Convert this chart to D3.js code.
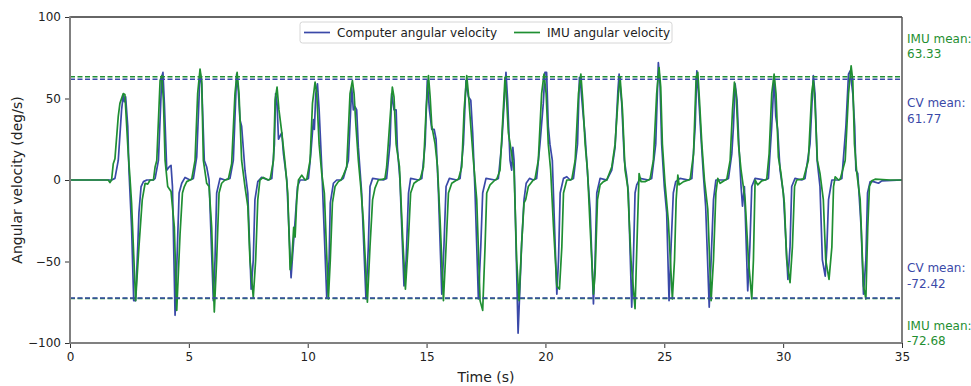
<!DOCTYPE html>
<html>
<head>
<meta charset="utf-8">
<script src="https://cdn.jsdelivr.net/npm/d3@7"></script>
<style>
  html, body { margin: 0; padding: 0; background: #fff; }
  svg { display: block; font-family: "DejaVu Sans", sans-serif; }
</style>
</head>
<body>
<svg id="chart" width="971" height="386"></svg>
<script>
// ---------------- data ----------------
const xTicks = [0, 5, 10, 15, 20, 25, 30, 35];
const yTicks = [100, 50, 0, -50, -100];
const seriesNames = ["Computer angular velocity", "IMU angular velocity"];
const meanLabels = ["IMU mean:", "CV mean:", "CV mean:", "IMU mean:"];
const meanValues = [63.33, 61.77, -72.42, -72.68];
const meanSeries = ["imu", "cv", "cv", "imu"];

// Computer (CV) angular velocity: [time s, deg/s]
const cvPoints = [
 [0,0],[1.75,0],[1.89,1],[2.03,12],[2.17,43],[2.24,52],[2.29,48],[2.34,51],[2.43,33],[2.48,6],[2.59,-29],[2.68,-74],[2.76,-74],[2.85,-41],[2.90,-20],[2.99,-4],[3.09,-1],[3.23,0],[3.51,0],
 [3.58,1],[3.72,12],[3.86,63],[3.91,66],[3.97,47],[4.07,6],[4.17,8],[4.25,9],[4.31,-4],[4.42,-83],[4.50,-49],[4.59,-8],[4.70,-2],[4.84,1.6],[5.05,0],
 [5.19,1],[5.33,14],[5.47,66],[5.54,59],[5.65,12],[5.75,8],[5.85,0],[6.03,-74],[6.10,-49],[6.17,-8],[6.31,1],[6.52,0],
 [6.73,1],[6.87,12],[7.01,65],[7.08,55],[7.15,37],[7.22,33],[7.36,6],[7.48,-8],[7.62,-67],[7.71,-49],[7.78,-12],[7.90,-1],[8.06,1.6],[8.34,0],
 [8.49,1],[8.60,22],[8.65,53],[8.71,47],[8.77,25],[8.91,29],[8.98,16],[9.12,0],[9.30,-60],[9.37,-45],[9.47,-25],[9.57,-4],[9.68,0],[9.89,0],
 [10.03,1],[10.13,16],[10.24,37],[10.28,31],[10.34,53],[10.41,59],[10.48,43],[10.59,8],[10.80,-72],[10.90,-49],[10.95,-14],[11.08,-2],[11.22,0],[11.40,0],
 [11.50,1],[11.71,12],[11.85,57],[11.92,43],[11.99,45],[12.06,43],[12.13,20],[12.27,-8],[12.45,-73],[12.55,-41],[12.62,-4],[12.73,1],[13.18,0],
 [13.32,1],[13.46,22],[13.53,53],[13.63,43],[13.72,43],[13.77,20],[13.88,0],[14.05,-65],[14.14,-49],[14.24,-8],[14.33,1],[14.66,0],
 [14.80,1],[14.94,22],[15.03,61],[15.12,43],[15.22,31],[15.32,31],[15.40,25],[15.50,-8],[15.64,-70],[15.73,-41],[15.82,-4],[15.96,1],[16.27,0],
 [16.41,1],[16.55,22],[16.66,61],[16.76,51],[16.86,49],[16.94,29],[17.04,-8],[17.18,-73],[17.28,-41],[17.36,-8],[17.50,1],[17.88,0],
 [18.02,1],[18.16,22],[18.34,66],[18.41,49],[18.51,12],[18.58,6],[18.63,20],[18.68,12],[18.85,-94],[19.00,-39],[19.10,-12],[19.19,-2],[19.33,1],[19.49,0],
 [19.63,1],[19.77,22],[19.91,47],[19.98,66],[20.05,66],[20.12,33],[20.19,22],[20.29,12],[20.48,-70],[20.55,-49],[20.62,-8],[20.76,1],[20.90,2],[21.04,0],
 [21.18,1],[21.35,22],[21.43,63],[21.49,57],[21.57,43],[21.67,27],[21.77,4],[21.88,-18],[22.02,-76],[22.09,-49],[22.16,-8],[22.30,1],[22.58,0],
 [22.79,6],[22.93,20],[23.05,55],[23.10,65],[23.21,47],[23.32,12],[23.42,2],[23.49,-8],[23.63,-78],[23.70,-49],[23.77,-8],[23.84,-3],[23.98,1],[24.33,0],
 [24.47,1],[24.64,22],[24.75,72],[24.82,59],[24.89,22],[25.00,-4],[25.10,-20],[25.20,-74],[25.29,-39],[25.38,-8],[25.48,-1],[25.66,1],[26.02,0],
 [26.16,1],[26.30,33],[26.37,67],[26.44,53],[26.55,25],[26.65,2],[26.74,-16],[26.89,-78],[26.97,-49],[27.07,-12],[27.17,0],[27.56,0],
 [27.70,1],[27.84,16],[27.91,33],[27.98,59],[28.06,49],[28.15,18],[28.23,-4],[28.29,-16],[28.37,-4],[28.51,-68],[28.60,-41],[28.68,-4],[28.82,1],[29.24,0],
 [29.38,1],[29.52,33],[29.62,63],[29.69,39],[29.77,31],[29.87,6],[30.01,-8],[30.20,-61],[30.29,-41],[30.36,-4],[30.50,1],[30.78,0],
 [30.92,1],[31.13,22],[31.27,64],[31.34,53],[31.43,12],[31.55,-4],[31.65,-49],[31.77,-59],[31.84,-41],[31.91,-12],[32.05,0],[32.33,0],
 [32.47,1],[32.64,33],[32.75,65],[32.82,67],[32.93,53],[33.01,33],[33.06,6],[33.14,4],[33.28,-29],[33.38,-70],[33.48,-49],[33.55,-8],[33.66,-1],[33.80,-1],[34.01,-2],[34.15,-0.5],[35,0]
];

// IMU angular velocity: [time s, deg/s]
const imuPoints = [
 [0,0],[1.61,0],[1.68,-1.6],[1.75,0],[1.82,10],[1.89,13],[2.03,39],[2.10,47],[2.24,53],[2.31,52.5],[2.45,16],[2.52,2],[2.59,-14],[2.76,-74],[2.90,-41],[3.04,-12],[3.16,-2],[3.27,-2.5],[3.37,0],[3.51,0],
 [3.58,8],[3.65,12],[3.79,61],[3.86,64],[3.93,49],[4.00,12],[4.11,-4],[4.25,-7],[4.39,-29],[4.49,-80],[4.63,-33],[4.73,-8],[4.81,-4],[4.91,-1],[5.05,0],[5.12,0.5],
 [5.26,12],[5.37,53],[5.47,68],[5.54,61],[5.61,12],[5.75,-2],[5.85,-4],[5.96,-29],[6.07,-81],[6.17,-49],[6.27,-8],[6.38,-2],[6.52,0],[6.66,0.5],
 [6.80,10],[6.94,53],[7.03,66],[7.11,53],[7.22,12],[7.36,-4],[7.48,-16],[7.57,-49],[7.71,-72],[7.81,-49],[7.90,-12],[7.99,0],[8.13,1.6],[8.34,0],[8.42,0.5],
 [8.56,12],[8.63,49],[8.71,57],[8.79,43],[8.91,29],[9.05,10],[9.16,-8],[9.26,-55],[9.33,-49],[9.41,-29],[9.47,-35],[9.54,-12],[9.61,0],[9.75,3],[9.89,0],[9.96,0.5],
 [10.10,12],[10.20,47],[10.31,60],[10.38,53],[10.48,22],[10.59,4],[10.70,-8],[10.87,-73],[10.95,-49],[11.04,-14],[11.15,-4],[11.29,-1],[11.40,0],
 [11.50,3],[11.64,8],[11.78,53],[11.88,61],[11.95,53],[12.03,33],[12.13,12],[12.23,-4],[12.34,-25],[12.51,-75],[12.62,-41],[12.73,-12],[12.83,-5],[12.97,0],[13.18,0.5],
 [13.25,1],[13.32,8],[13.44,33],[13.56,57],[13.63,51],[13.72,22],[13.86,8],[14.00,-37],[14.11,-67],[14.22,-41],[14.33,-8],[14.47,-2],[14.66,0],
 [14.73,0.5],[14.87,8],[14.98,43],[15.08,64],[15.15,51],[15.22,33],[15.36,22],[15.46,8],[15.57,-25],[15.71,-74],[15.82,-41],[15.92,-8],[16.06,-2],[16.27,0],
 [16.34,0.5],[16.48,8],[16.58,43],[16.69,64],[16.76,53],[16.86,33],[16.97,12],[17.11,-12],[17.25,-74],[17.36,-80],[17.46,-41],[17.53,-8],[17.67,-3],[17.88,0],
 [17.95,0.5],[18.09,6],[18.19,33],[18.30,63],[18.37,49],[18.44,29],[18.58,16],[18.68,6],[18.79,-49],[18.89,-74],[19.00,-39],[19.10,-14],[19.17,-12],[19.28,-4],[19.49,0],
 [19.56,0.5],[19.70,12],[19.84,53],[19.94,65],[20.03,53],[20.12,22],[20.22,6],[20.34,-29],[20.48,-65],[20.59,-67],[20.69,-41],[20.76,-8],[20.90,0],[21.04,0],
 [21.11,0.5],[21.25,12],[21.39,53],[21.49,65],[21.57,49],[21.67,22],[21.77,6],[21.88,-29],[22.02,-70],[22.09,-57],[22.19,-12],[22.30,-3],[22.44,-1],[22.58,0],
 [22.79,8],[22.93,22],[23.07,53],[23.14,63],[23.24,43],[23.35,6],[23.46,-4],[23.60,-49],[23.77,-79],[23.87,-29],[23.94,4],[24.02,-1],[24.19,-1],[24.33,0],
 [24.40,0.5],[24.54,12],[24.68,53],[24.78,69],[24.85,57],[24.92,22],[25.03,-2],[25.17,-25],[25.34,-73],[25.43,-49],[25.50,-12],[25.57,3],[25.62,-3],[25.81,-1],[26.02,0],
 [26.09,0.5],[26.23,16],[26.34,63],[26.41,66],[26.48,49],[26.58,22],[26.69,0],[26.83,-18],[26.97,-74],[27.07,-49],[27.17,-8],[27.25,1],[27.35,-2],[27.56,0],
 [27.63,0.5],[27.77,12],[27.87,43],[27.95,60],[28.02,53],[28.12,22],[28.23,6],[28.40,-12],[28.54,-49],[28.68,-73],[28.75,-49],[28.82,0],[28.93,-3],[29.10,-0.5],[29.24,0],
 [29.31,0.5],[29.41,16],[29.52,53],[29.62,65],[29.70,53],[29.80,14],[29.91,4],[30.05,-14],[30.15,-49],[30.29,-63],[30.39,-41],[30.48,-4],[30.57,0],[30.78,0.5],
 [30.85,0.5],[31.06,12],[31.20,53],[31.27,61],[31.34,47],[31.44,12],[31.55,4],[31.69,-12],[31.79,-49],[31.93,-61],[32.05,-41],[32.12,-4],[32.19,2],[32.33,0],
 [32.40,0.5],[32.61,12],[32.75,53],[32.86,70],[32.93,61],[33.00,22],[33.10,4],[33.24,-12],[33.38,-65],[33.48,-73],[33.56,-29],[33.63,-4],[33.73,-0.5],[33.87,0.5],[34.5,0],[35,0]
];

// ---------------- styling ----------------
const colors = { cv: "#3a49a8", imu: "#1f8f32" };
const margin = { left: 70, right: 69, top: 17, bottom: 43 };
const W = 971, H = 386;

const svg = d3.select("#chart");
const x = d3.scaleLinear().domain([0, 35]).range([margin.left, W - margin.right]);
const y = d3.scaleLinear().domain([-100, 100]).range([H - margin.bottom, margin.top]);

const line = d3.line().x(d => x(d[0])).y(d => y(d[1]));

svg.append("clipPath").attr("id", "clip").append("rect")
  .attr("x", x(0)).attr("y", y(100)).attr("width", x(35) - x(0)).attr("height", y(-100) - y(100));

const plot = svg.append("g").attr("clip-path", "url(#clip)");
plot.append("path").datum(cvPoints).attr("d", line)
  .attr("fill", "none").attr("stroke", colors.cv).attr("stroke-width", 1.7).attr("stroke-linejoin", "round");
plot.append("path").datum(imuPoints).attr("d", line)
  .attr("fill", "none").attr("stroke", colors.imu).attr("stroke-width", 1.7).attr("stroke-linejoin", "round");

// mean lines (IMU first, CV on top)
const meanOrder = [0, 3, 1, 2];
meanOrder.forEach(i => {
  const v = meanValues[i];
  plot.append("line")
    .attr("x1", x(0)).attr("x2", x(35)).attr("y1", y(v)).attr("y2", y(v))
    .attr("stroke", colors[meanSeries[i]]).attr("stroke-width", 1.4)
    .attr("stroke-dasharray", "5,2.5");
});

// axes
const xAxis = svg.append("g").attr("transform", `translate(0,${y(-100)})`)
  .call(d3.axisBottom(x).tickValues(xTicks).tickSize(5).tickPadding(4).tickFormat(d3.format("d")));
const yAxis = svg.append("g").attr("transform", `translate(${x(0)},0)`)
  .call(d3.axisLeft(y).tickValues(yTicks).tickSize(5).tickPadding(4)
    .tickFormat(d => d < 0 ? "\u2212" + Math.abs(d) : String(d)));

[xAxis, yAxis].forEach(a => {
  a.select(".domain").remove();
  a.selectAll(".tick line").attr("stroke", "#333").attr("stroke-width", 1);
  a.selectAll(".tick text").attr("fill", "#222").style("font-size", "12px")
    .style("font-family", "DejaVu Sans, sans-serif");
});

// spines
const sp = svg.append("g");
sp.append("line").attr("x1", x(0)).attr("x2", x(35)).attr("y1", y(100)).attr("y2", y(100))
  .attr("stroke", "#333").attr("stroke-width", 1.5);
sp.append("line").attr("x1", x(35)).attr("x2", x(35)).attr("y1", y(100)).attr("y2", y(-100))
  .attr("stroke", "#555").attr("stroke-width", 1.5);
sp.append("line").attr("x1", x(0)).attr("x2", x(0)).attr("y1", y(100) - 0.75).attr("y2", y(-100) + 0.75)
  .attr("stroke", "#808080").attr("stroke-width", 2);
sp.append("line").attr("x1", x(0)).attr("x2", x(35)).attr("y1", y(-100)).attr("y2", y(-100))
  .attr("stroke", "#808080").attr("stroke-width", 2);

// axis labels
svg.append("text").attr("x", (x(0) + x(35)) / 2).attr("y", 382)
  .attr("text-anchor", "middle").attr("fill", "#222").style("font-size", "14px").text("Time (s)");
svg.append("text").attr("transform", `translate(22,${(y(100) + y(-100)) / 2}) rotate(-90)`)
  .attr("text-anchor", "middle").attr("fill", "#222").style("font-size", "14px")
  .text("Angular velocity (deg/s)");

// legend
const leg = svg.append("g").attr("transform", "translate(300,22)");
leg.append("rect").attr("x", 0).attr("y", 0).attr("width", 372).attr("height", 21).attr("rx", 2.5)
  .attr("fill", "#fff").attr("fill-opacity", 0.85).attr("stroke", "#d6d6d6").attr("stroke-width", 1);
const legItems = [
  { name: seriesNames[0], color: colors.cv, x0: 4 },
  { name: seriesNames[1], color: colors.imu, x0: 214 }
];
legItems.forEach(it => {
  leg.append("line").attr("x1", it.x0).attr("x2", it.x0 + 26).attr("y1", 10.5).attr("y2", 10.5)
    .attr("stroke", it.color).attr("stroke-width", 1.7);
  leg.append("text").attr("x", it.x0 + 33).attr("y", 15).attr("fill", "#222")
    .style("font-size", "12px").text(it.name);
});

// mean annotations on the right
const annoBaselines = [[43, 58], [107, 123], [272, 288], [330, 345]];
meanValues.forEach((v, i) => {
  const g = svg.append("text").attr("fill", colors[meanSeries[i]]).style("font-size", "12px");
  g.append("tspan").attr("x", 907).attr("y", annoBaselines[i][0]).text(meanLabels[i]);
  g.append("tspan").attr("x", 907).attr("y", annoBaselines[i][1]).text(v.toFixed(2));
});
</script>
</body>
</html>
